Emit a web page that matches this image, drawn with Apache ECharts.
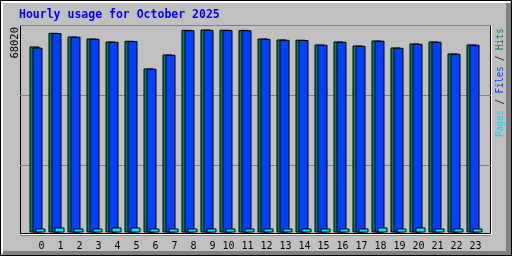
<!DOCTYPE html>
<html><head><meta charset="utf-8">
<script src="https://cdn.jsdelivr.net/npm/echarts@6/dist/echarts.min.js"></script>
<style>html,body{margin:0;padding:0;background:#c0c0c0}#c{width:512px;height:256px}</style>
</head><body><div id="c"></div>
<script>
const titleText = 'Hourly usage for October 2025';
const hours = ['0','1','2','3','4','5','6','7','8','9','10','11','12','13','14','15','16','17','18','19','20','21','22','23'];
const hits  = [62340,66920,65680,65010,64010,64240,54980,59660,67900,68020,67950,67880,65010,64680,64600,63010,64010,62670,64340,62000,63340,64010,60000,63010];
const files = [61950,66820,65580,64910,63910,64140,54880,59560,67800,67920,67850,67780,64910,64580,64500,62910,63910,62570,64240,61900,63240,63910,59900,62910];
const pages = [1340,1680,1340,1340,1680,1680,1340,1340,1340,1340,1340,1340,1340,1340,1340,1340,1340,1340,1680,1340,1680,1340,1340,1340];
const maxLabel = ['68020'];
const legendParts = ['Pages', 'Files', 'Hits'];

const C_HITS = '#00805c', C_FILES = '#0040ff', C_PAGES = '#00e0ff';
const MONO = 'DejaVu Sans Mono';
const maxVal = Number(maxLabel[0]);

const chart = echarts.init(document.getElementById('c'), null, {renderer: 'canvas'});
const barStyle = c => ({color: c, borderColor: '#000', borderWidth: 1});
const lf = '10.5px "DejaVu Sans Mono"';

chart.setOption({
  animation: false,
  backgroundColor: '#c0c0c0',
  title: {
    text: titleText, left: 19, top: 9, padding: 0,
    textStyle: {color: '#0000ff', fontFamily: MONO, fontWeight: 'bold', fontSize: 11.5}
  },
  grid: [
    {left: 20, top: 25, width: 471, height: 210},
    {left: 28, top: 29.5, width: 456, bottom: 23.5}
  ],
  xAxis: [
    {gridIndex: 0, type: 'value', show: false, min: 0, max: 1},
    {gridIndex: 1, type: 'category', data: hours, boundaryGap: true,
     axisLine: {show: false}, axisTick: {show: false},
     axisLabel: {interval: 0, color: '#000', fontFamily: MONO, fontSize: 10, margin: 9,
       padding: [0, 0, 0, 2],
       formatter: v => (v.length < 2 ? ' ' + v : v)}}
  ],
  yAxis: [
    {gridIndex: 0, type: 'value', min: 0, max: 3, interval: 1,
     axisLine: {show: false}, axisTick: {show: false}, axisLabel: {show: false},
     splitLine: {show: true, lineStyle: {color: '#808080', width: 1}}},
    {gridIndex: 1, type: 'value', min: 0, max: maxVal, show: false, splitLine: {show: false}}
  ],
  series: [
    {name: 'Hits', type: 'bar', xAxisIndex: 1, yAxisIndex: 1, data: hits, barWidth: 10, barGap: '-70%', itemStyle: barStyle(C_HITS)},
    {name: 'Files', type: 'bar', xAxisIndex: 1, yAxisIndex: 1, data: files, barWidth: 10, barGap: '-70%', itemStyle: barStyle(C_FILES)},
    {name: 'Pages', type: 'bar', xAxisIndex: 1, yAxisIndex: 1, data: pages, barWidth: 10, barGap: '-70%', itemStyle: barStyle(C_PAGES)}
  ],
  graphic: [
    {type: 'rect', z: -1, silent: true, shape: {x: 0.5, y: 0.5, width: 511, height: 255}, style: {fill: null, stroke: '#000', lineWidth: 1}},
    {type: 'rect', z: -1, silent: true, shape: {x: 1, y: 1, width: 509, height: 2}, style: {fill: '#fff'}},
    {type: 'rect', z: -1, silent: true, shape: {x: 1, y: 1, width: 2, height: 252}, style: {fill: '#fff'}},
    {type: 'rect', z: -1, silent: true, shape: {x: 3, y: 251, width: 508, height: 4}, style: {fill: '#808080'}},
    {type: 'rect', z: -1, silent: true, shape: {x: 506, y: 3, width: 5, height: 252}, style: {fill: '#808080'}},
    {type: 'polyline', z: 0, silent: true, shape: {points: [[21, 234.5], [491.5, 234.5], [491.5, 26]]}, style: {stroke: '#fff', lineWidth: 1, fill: null}},
    {type: 'rect', z: 0, silent: true, shape: {x: 20.5, y: 25.5, width: 470, height: 208}, style: {fill: null, stroke: '#000', lineWidth: 1}},
    {type: 'text', silent: true, x: 15, y: 27, rotation: Math.PI / 2,
     style: {text: maxLabel[0], fill: '#000', font: '10.5px "DejaVu Sans Mono"', align: 'right', verticalAlign: 'middle'}},
    {type: 'text', silent: true, x: 500.5, y: 137, rotation: Math.PI / 2, scaleX: 0.86,
     style: {
       text: '{p|' + legendParts[0] + '}{s| / }{f|' + legendParts[1] + '}{s| / }{h|' + legendParts[2] + '}',
       font: lf, align: 'left', verticalAlign: 'middle',
       rich: {
         p: {fill: C_PAGES, font: lf},
         s: {fill: '#000', font: lf},
         f: {fill: C_FILES, font: lf},
         h: {fill: C_HITS, font: lf}
       }
     }}
  ]
});
</script>
</body></html>
